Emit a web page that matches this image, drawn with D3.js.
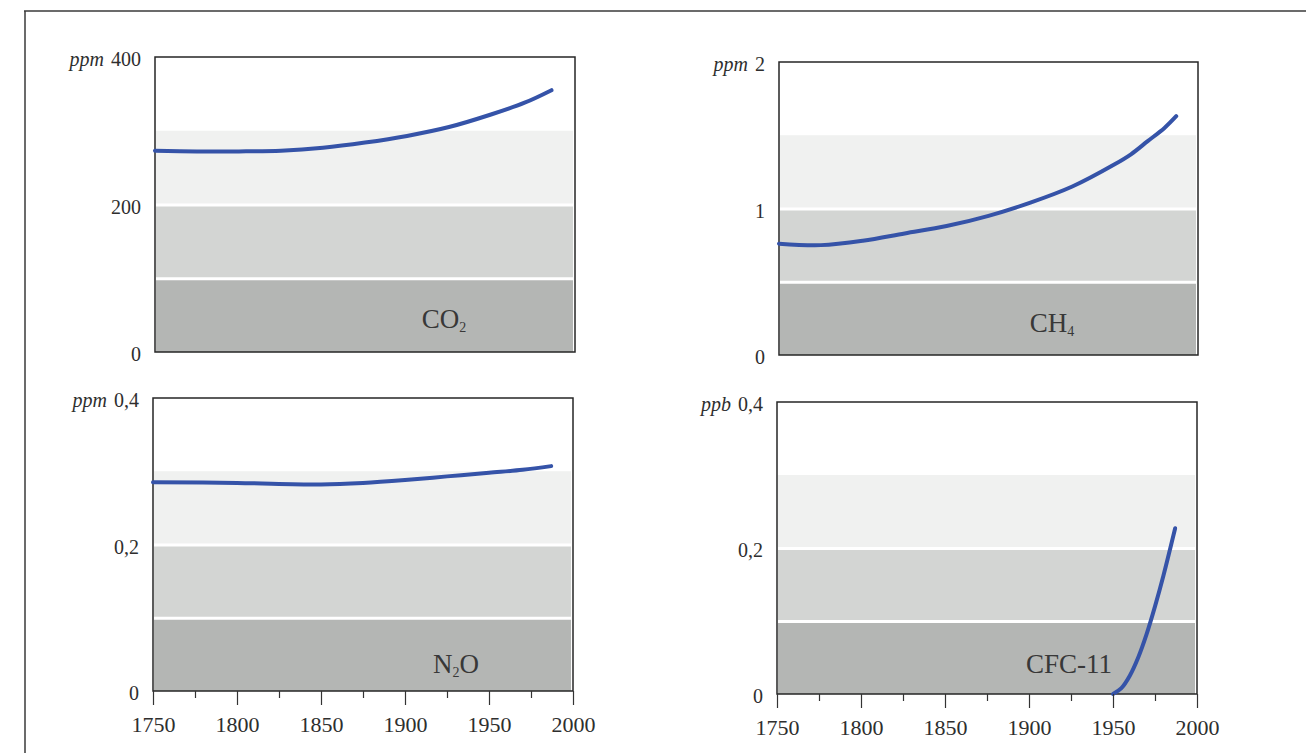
<!DOCTYPE html>
<html><head><meta charset="utf-8">
<script src="https://cdn.jsdelivr.net/npm/d3@7"></script>
<style>html,body{margin:0;padding:0;background:#fff;overflow:hidden}svg{display:block}</style>
</head><body><svg id="chart" width="1306" height="753"></svg>
<script>
// ---------- data ----------
const co2Years  = [1750, 1775, 1800, 1825, 1850, 1875, 1900, 1925, 1950, 1970, 1986];
const co2Values = [273, 272, 272, 273, 277, 284, 293, 305, 322, 338, 355];
const ch4Years  = [1750, 1775, 1800, 1825, 1850, 1875, 1900, 1925, 1950, 1960, 1970, 1980, 1987];
const ch4Values = [0.76, 0.75, 0.78, 0.83, 0.88, 0.95, 1.04, 1.15, 1.30, 1.37, 1.46, 1.55, 1.63];
const n2oYears  = [1750, 1800, 1850, 1875, 1900, 1925, 1950, 1970, 1987];
const n2oValues = [0.285, 0.284, 0.282, 0.284, 0.288, 0.293, 0.298, 0.302, 0.307];
const cfcYears  = [1950, 1955, 1960, 1965, 1970, 1975, 1980, 1987];
const cfcValues = [0, 0.008, 0.025, 0.05, 0.082, 0.12, 0.162, 0.227];

const co2TickValues = [0, 200, 400];   const co2TickLabels = ["0", "200", "400"];
const ch4TickValues = [0, 1, 2];       const ch4TickLabels = ["0", "1", "2"];
const n2oTickValues = [0, 0.2, 0.4];   const n2oTickLabels = ["0", "0,2", "0,4"];
const cfcTickValues = [0, 0.2, 0.4];   const cfcTickLabels = ["0", "0,2", "0,4"];

const co2Bands = [0, 100, 200, 300];
const ch4Bands = [0, 0.5, 1, 1.5];
const n2oBands = [0, 0.1, 0.2, 0.3];
const cfcBands = [0, 0.1, 0.2, 0.3];

const xMajorYears = [1750, 1800, 1850, 1900, 1950, 2000];
const xMajorLabels = ["1750", "1800", "1850", "1900", "1950", "2000"];
const xMinorYears = [1775, 1825, 1875, 1925, 1975];

const units = ["ppm", "ppm", "ppm", "ppb"];
const gasNames = [["CO", "2", ""], ["CH", "4", ""], ["N", "2", "O"], ["CFC-11", "", ""]];

// ---------- layout ----------
const panels = [
  {years: co2Years, values: co2Values, yMax: 400, ticks: co2TickValues, labels: co2TickLabels, bands: co2Bands,
   box: {x0: 155, x1: 575, y0: 57, y1: 352}, xAxis: false, nameX: 444, nameY: 328},
  {years: ch4Years, values: ch4Values, yMax: 2, ticks: ch4TickValues, labels: ch4TickLabels, bands: ch4Bands,
   box: {x0: 779, x1: 1198, y0: 62, y1: 355}, xAxis: false, nameX: 1052, nameY: 332},
  {years: n2oYears, values: n2oValues, yMax: 0.4, ticks: n2oTickValues, labels: n2oTickLabels, bands: n2oBands,
   box: {x0: 153, x1: 573, y0: 398, y1: 691}, xAxis: true, nameX: 456, nameY: 673},
  {years: cfcYears, values: cfcValues, yMax: 0.4, ticks: cfcTickValues, labels: cfcTickLabels, bands: cfcBands,
   box: {x0: 777, x1: 1197, y0: 402, y1: 694}, xAxis: true, nameX: 1069, nameY: 673}
];
const bandColors = ["#b4b6b4", "#d3d5d3", "#f0f1f0"];
const lineColor = "#3553a8";
const textColor = "#2e2e2e";
const font = "'Liberation Serif', 'Times New Roman', serif";

const svg = d3.select("#chart");

// outer scanned frame lines
svg.append("line").attr("x1", 24).attr("x2", 1306).attr("y1", 11).attr("y2", 11)
  .attr("stroke", "#3a3a3a").attr("stroke-width", 1.5);
svg.append("line").attr("x1", 25).attr("x2", 25).attr("y1", 11).attr("y2", 753)
  .attr("stroke", "#3a3a3a").attr("stroke-width", 1.5);

panels.forEach((p, i) => {
  const b = p.box;
  const g = svg.append("g");
  const x = d3.scaleLinear().domain([1750, 2000]).range([b.x0, b.x1]);
  const y = d3.scaleLinear().domain([0, p.yMax]).range([b.y1, b.y0]);

  // bands
  for (let k = 0; k < 3; k++) {
    g.append("rect")
      .attr("x", b.x0 + 1).attr("width", b.x1 - b.x0 - 3)
      .attr("y", y(p.bands[k + 1])).attr("height", y(p.bands[k]) - y(p.bands[k + 1]))
      .attr("fill", bandColors[k]);
  }
  for (let k = 1; k < 3; k++) {
    g.append("rect")
      .attr("x", b.x0 + 1).attr("width", b.x1 - b.x0 - 3)
      .attr("y", y(p.bands[k]) - 1).attr("height", 3)
      .attr("fill", "#ffffff");
  }

  // frame
  g.append("rect").attr("x", b.x0).attr("y", b.y0)
    .attr("width", b.x1 - b.x0).attr("height", b.y1 - b.y0)
    .attr("fill", "none").attr("stroke", "#262626").attr("stroke-width", 1.5);

  // curve
  const line = d3.line().x((d, j) => x(p.years[j])).y(d => y(d)).curve(d3.curveCatmullRom.alpha(0.5));
  g.append("path").datum(p.values).attr("d", line)
    .attr("fill", "none").attr("stroke", lineColor).attr("stroke-width", 4)
    .attr("stroke-linecap", "round");

  // y tick labels
  let topLabel = null;
  p.ticks.forEach((v, j) => {
    const t = g.append("text").attr("x", b.x0 - 14).attr("y", y(v) + 9)
      .attr("text-anchor", "end").attr("font-family", font).attr("font-size", 20)
      .attr("fill", textColor).text(p.labels[j]);
    if (j === p.ticks.length - 1) topLabel = t;
  });
  const tw = topLabel.node().getComputedTextLength();
  g.append("text").attr("x", b.x0 - 14 - tw - 7).attr("y", y(p.yMax) + 9)
    .attr("text-anchor", "end").attr("font-family", font).attr("font-size", 20)
    .attr("font-style", "italic").attr("fill", textColor).text(units[i]);

  // gas name
  const nm = g.append("text").attr("x", p.nameX).attr("y", p.nameY)
    .attr("text-anchor", "middle").attr("font-family", font).attr("font-size", 27)
    .attr("fill", "#383838");
  nm.append("tspan").text(gasNames[i][0]);
  if (gasNames[i][1]) nm.append("tspan").attr("font-size", 14).attr("dy", 4).text(gasNames[i][1]);
  if (gasNames[i][2]) nm.append("tspan").attr("dy", -4).text(gasNames[i][2]);

  // x axis
  if (p.xAxis) {
    const ax = g.append("g").attr("transform", `translate(0,${b.y1})`)
      .call(d3.axisBottom(x).tickValues(xMajorYears).tickSize(14).tickPadding(11)
        .tickFormat((d, j) => xMajorLabels[j]));
    ax.select(".domain").remove();
    ax.selectAll("line").attr("stroke", "#333").attr("stroke-width", 1.2);
    ax.selectAll("text").attr("font-family", font).attr("font-size", 22).attr("fill", textColor);
    const axm = g.append("g").attr("transform", `translate(0,${b.y1})`)
      .call(d3.axisBottom(x).tickValues(xMinorYears).tickSize(7).tickFormat(""));
    axm.select(".domain").remove();
    axm.selectAll("line").attr("stroke", "#333").attr("stroke-width", 1.2);
  }
});
</script>
</body></html>
